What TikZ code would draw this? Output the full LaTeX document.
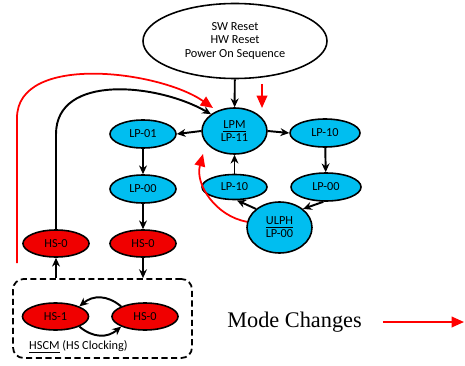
\documentclass[tikz,border=0pt]{standalone}
\usepackage{fontspec}
\setmainfont{Liberation Serif}
\setsansfont{Carlito}
\usepackage{xcolor}
\usetikzlibrary{arrows.meta, shapes.geometric}
\definecolor{lpblue}{RGB}{0,190,240}
\definecolor{hsred}{RGB}{240,0,0}

\begin{document}
\begin{tikzpicture}[
    >={Stealth[length=5pt,width=4.5pt]},
    every node/.append style={font=\sffamily\fontsize{7}{7.4}\selectfont},
    lp/.style={draw, ellipse, line width=0.9pt, fill=lpblue, inner sep=0pt, minimum width=1.32cm, minimum height=0.56cm, align=center},
    hs/.style={draw, ellipse, line width=0.9pt, fill=hsred, inner sep=0pt, minimum width=1.32cm, minimum height=0.54cm},
    arrow/.style={->, line width=1.1pt},
    modearrow/.style={-{Triangle[length=7pt,width=6pt]}, line width=1pt, color=red},
]
\useasboundingbox (0,0) rectangle (9.3,7.3);
\node[draw, ellipse, line width=0.9pt, minimum width=3.68cm, minimum height=1.5cm, align=center] (reset) at (4.7,6.48) {SW Reset\\HW Reset\\Power On Sequence};
\node[lp, minimum width=1.3cm, minimum height=0.92cm] (lpm) at (4.69,4.68) {\underline{LPM}\\LP-11};
\node[lp] (lp01) at (2.86,4.62) {LP-01};
\node[lp] (lp00l) at (2.86,3.52) {LP-00};
\node[lp, minimum width=1.4cm] (lp10r) at (6.5,4.64) {LP-10};
\node[lp, minimum width=1.4cm] (lp00r) at (6.52,3.56) {LP-00};
\node[lp, minimum width=1.3cm, minimum height=0.5cm] (lp10m) at (4.69,3.56) {LP-10};
\node[lp, minimum width=1.3cm, minimum height=1.02cm] (ulph) at (5.59,2.75) {\underline{ULPH}\\LP-00};
\node[hs] (hs0a) at (1.12,2.43) {HS-0};
\node[hs] (hs0b) at (2.86,2.43) {HS-0};
\node[draw, dashed, dash pattern=on 3.5pt off 2pt, line width=1pt, rounded corners=6pt, minimum width=3.58cm, minimum height=1.58cm] (hscm) at (2.05,0.93) {};
\node[hs] (hs1) at (1.11,0.97) {HS-1};
\node[hs] (hs0c) at (2.9,0.97) {HS-0};
\node[anchor=west] (hscmlbl) at (0.46,0.36) {\underline{HSCM} (HS Clocking)};
\node[font=\fontsize{12.7}{14}\selectfont] (mode) at (5.89,0.86) {Mode Changes};

\draw[arrow] (reset) -- (lpm);
\draw[arrow] (lpm.west) -- (lp01.east);
\draw[arrow] (lpm.east) -- (lp10r.west);
\draw[arrow] (lp01) -- (lp00l);
\draw[arrow] (lp00l) -- (hs0b);
\draw[arrow] (hs0b) -- (hs0b |- hscm.north);
\draw[arrow] (hs0a |- hscm.north) -- (hs0a);
\draw[arrow] (lp10r) -- (lp00r);
\draw[arrow] (lp00r.-100) -- (ulph.north east);
\draw[arrow] (ulph.north west) -- (lp10m.-80);
\draw[arrow] (lp10m) -- (lpm);
\draw[arrow] (hs0a.north) -- ++(0,1.9) to[out=90,in=150] (lpm.north west);
\draw[arrow] (hs0c.north west) to[out=140,in=40,looseness=1.1] (hs1.north east);
\draw[arrow] (hs1.south east) to[out=-40,in=-140,looseness=1.1] (hs0c.south west);

\coordinate (mstart) at (0.34,2.04);
\coordinate (rtip) at (4.26,5.14);
\coordinate (ltip) at (4.06,4.22);
\coordinate (rs) at (5.24,5.62);
\coordinate (rt) at (5.24,5.14);
\coordinate (legend) at (9.28,0.86);
\draw[modearrow] (mstart) -- ++(0,2.9) to[out=90,in=145,looseness=0.85] (rtip);
\draw[modearrow] (ulph.170) to[out=170,in=-105] (ltip);
\draw[modearrow] (rs) -- (rt);
\draw[modearrow] ([xshift=0.3cm]mode.east) -- (legend);
\end{tikzpicture}
\end{document}
